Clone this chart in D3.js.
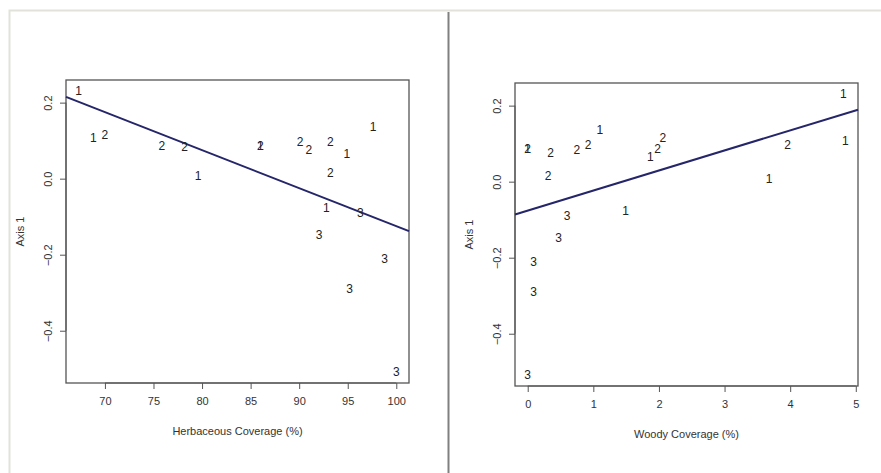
<!DOCTYPE html>
<html>
<head>
<meta charset="utf-8">
<script src="https://cdn.jsdelivr.net/npm/d3@7"></script>
<style>
  body { margin: 0; background: #fff; }
  svg { display: block; font-family: "Liberation Sans", Arial, sans-serif; }
</style>
</head>
<body>
<div id="chart"></div>
<script>
// site group (plotted as the label), ordination score and cover values
const groups = [1, 1, 2, 2, 2, 1, 1, 2, 2, 2, 2, 1, 1, 2, 1, 3, 3, 3, 3, 3];
const axis1  = [0.230, 0.106, 0.115, 0.086, 0.084, 0.008, 0.087, 0.087, 0.097, 0.075,
                0.097, 0.065, 0.135, 0.016, -0.078, -0.090, -0.149, -0.212, -0.290, -0.508];
const herbaceous = [67.3, 68.8, 70.0, 75.85, 78.2, 79.6, 86.0, 86.0, 90.1, 91.0,
                    93.2, 94.9, 97.6, 93.2, 92.8, 96.3, 92.05, 98.8, 95.2, 100.0];
const woody = [4.81, 4.84, 2.06, 1.98, 0.75, 3.68, 0.0, 0.0, 0.92, 0.35,
               3.96, 1.87, 1.10, 0.31, 1.49, 0.60, 0.47, 0.09, 0.09, 0.0];

// fitted lines: [intercept, slope]
const herbFit = [0.875, -0.0100];
const woodyFit = [-0.0760, 0.0527];

const herbTicks = [70, 75, 80, 85, 90, 95, 100];
const woodyTicks = [0, 1, 2, 3, 4, 5];
const yTicks = [-0.4, -0.2, 0.0, 0.2];

const W = 881, H = 473;
const svg = d3.select("#chart").append("svg")
  .attr("width", W).attr("height", H);

// page frame and divider
svg.append("path")
  .attr("d", `M9.5,${H} V10.5 H${W}`)
  .attr("fill", "none").attr("stroke", "#e2e2da").attr("stroke-width", 2);
svg.append("line")
  .attr("x1", 448.5).attr("x2", 448.5).attr("y1", 12).attr("y2", H)
  .attr("stroke", "#808080").attr("stroke-width", 2);

// R-style 4% padded domain
function rdomain(vals) {
  const [a, b] = d3.extent(vals);
  const pad = (b - a) * 0.04;
  return [a - pad, b + pad];
}

function panel(box, xvals, fit, xTicks, xTitle) {
  const x = d3.scaleLinear().domain(rdomain(xvals)).range([box.left, box.right]);
  const y = d3.scaleLinear().domain(rdomain(axis1)).range([box.bottom, box.top]);
  const g = svg.append("g");

  // x axis
  const xa = g.append("g")
    .attr("transform", `translate(0,${box.bottom})`)
    .call(d3.axisBottom(x).tickValues(xTicks).tickSize(6).tickPadding(8).tickFormat(d3.format("d")));
  xa.select(".domain").attr("stroke", "#555")
    .attr("d", `M${x(xTicks[0])},0H${x(xTicks[xTicks.length - 1])}`);
  xa.selectAll(".tick line").attr("stroke", "#555");
  xa.selectAll(".tick text").attr("fill", "#333").style("font-size", "11px");

  // y axis
  const ya = g.append("g")
    .attr("transform", `translate(${box.left},0)`)
    .call(d3.axisLeft(y).tickValues(yTicks).tickSize(6).tickFormat(d3.format(".1f")));
  ya.select(".domain").attr("stroke", "#555")
    .attr("d", `M0,${y(yTicks[0])}V${y(yTicks[yTicks.length - 1])}`);
  ya.selectAll(".tick line").attr("stroke", "#555");
  ya.selectAll(".tick text")
    .attr("fill", "#333").style("font-size", "11px")
    .attr("x", null).attr("dy", "0.35em")
    .attr("text-anchor", "middle")
    .attr("transform", "translate(-18,0) rotate(-90)");

  // plot box
  g.append("rect")
    .attr("x", box.left).attr("y", box.top)
    .attr("width", box.right - box.left).attr("height", box.bottom - box.top)
    .attr("fill", "none").attr("stroke", "#555").attr("stroke-width", 1.3);

  // labels
  g.append("text")
    .attr("x", (box.left + box.right) / 2).attr("y", box.bottom + 52)
    .attr("text-anchor", "middle").attr("fill", "#333")
    .style("font-size", "11px").text(xTitle);
  g.append("text")
    .attr("transform", `translate(${box.left - 42},${(box.top + box.bottom) / 2}) rotate(-90)`)
    .attr("text-anchor", "middle").attr("fill", "#333")
    .style("font-size", "11px").text("Axis 1");

  // fitted line clipped to the box
  const [x0, x1] = x.domain();
  g.append("line")
    .attr("x1", x(x0)).attr("y1", y(fit[0] + fit[1] * x0))
    .attr("x2", x(x1)).attr("y2", y(fit[0] + fit[1] * x1))
    .attr("stroke", "#25256a").attr("stroke-width", 2);

  // points drawn as group numbers
  g.append("g").selectAll("text")
    .data(groups.map((grp, i) => ({grp, xv: xvals[i], yv: axis1[i]})))
    .join("text")
      .attr("x", d => x(d.xv))
      .attr("y", d => y(d.yv))
      .attr("text-anchor", "middle")
      .attr("dominant-baseline", "central")
      .attr("fill", "#222")
      .style("font-size", "12px")
      .text(d => d.grp);
}

panel({left: 66, right: 409, top: 80, bottom: 383}, herbaceous, herbFit, herbTicks, "Herbaceous Coverage (%)");
panel({left: 515, right: 858, top: 83, bottom: 386}, woody, woodyFit, woodyTicks, "Woody Coverage (%)");
</script>
</body>
</html>
